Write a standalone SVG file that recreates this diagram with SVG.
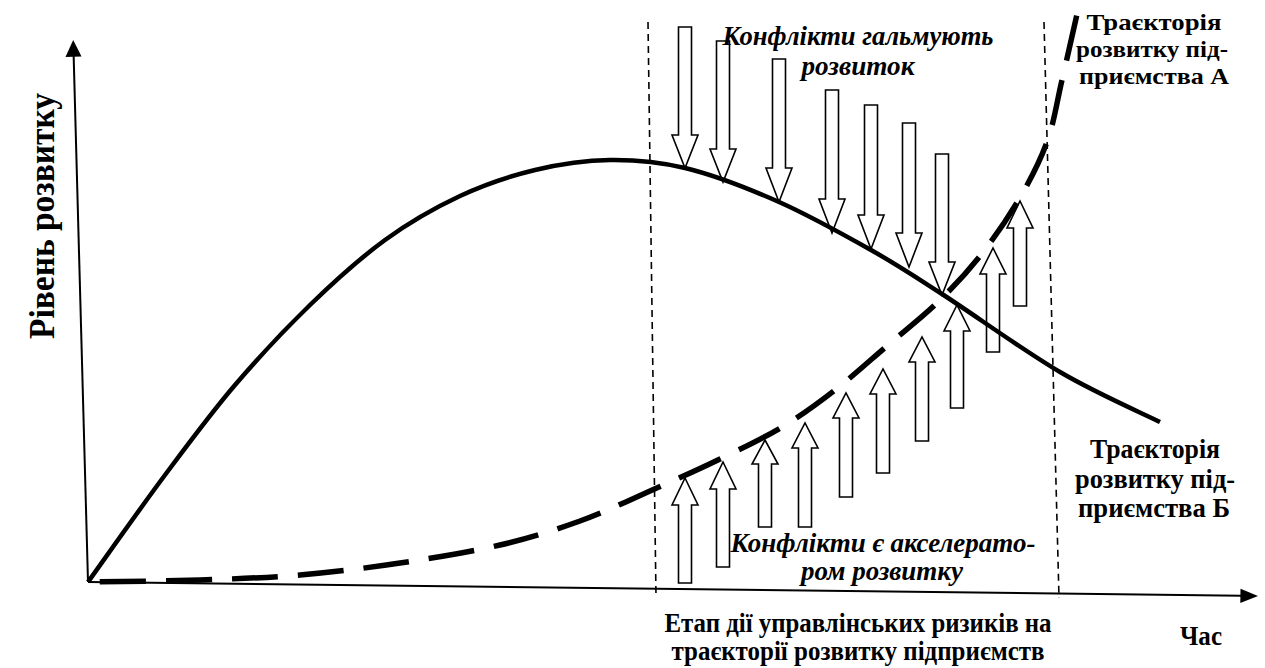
<svg xmlns="http://www.w3.org/2000/svg" width="1265" height="668" viewBox="0 0 1265 668">
<style>
.ax{stroke:#000;stroke-width:2;fill:none}
.vd{stroke:#000;stroke-width:1.6;stroke-dasharray:7 5;fill:none}
.solid{stroke:#000;stroke-width:4.5;fill:none}
.dash{stroke:#000;stroke-width:5.5;fill:none;stroke-dasharray:46 20;stroke-dashoffset:54}
.ar{fill:#fff;stroke:#000;stroke-width:1.6;stroke-linejoin:miter}
text{font-family:'Liberation Serif','DejaVu Serif','Times New Roman',serif;font-weight:bold;fill:#000}
.it{font-style:italic}
</style>
<rect width="1265" height="668" fill="#fff"/>
<g id="axes">
<line class="ax" x1="88" y1="582" x2="73.6" y2="54"/>
<polygon points="73.2,40 65.5,57 81.5,56.6" fill="#000"/>
<line class="ax" x1="88" y1="582" x2="1242" y2="595.8"/>
<polygon points="1258,596 1240.5,588.8 1240.3,603" fill="#000"/>
</g>
<g id="stage-bounds">
<line class="vd" x1="648" y1="22" x2="656" y2="596"/>
<line class="vd" x1="1044" y1="22" x2="1059" y2="598"/>
</g>
<g id="down-arrows">
<path class="ar" d="M678.5,27H691.5V135H698L685,168L672,135H678.5Z"/>
<path class="ar" d="M716.5,41H729.5V149H736L723,182L710,149H716.5Z"/>
<path class="ar" d="M772.5,59H785.5V168H792L779,202L766,168H772.5Z"/>
<path class="ar" d="M825.5,90H838.5V199H845L832,233L819,199H825.5Z"/>
<path class="ar" d="M864.5,105H877.5V215H884L871,249L858,215H864.5Z"/>
<path class="ar" d="M902.5,123H915.5V233H922L909,267L896,233H902.5Z"/>
<path class="ar" d="M935.5,154H948.5V262H955L942,295L929,262H935.5Z"/>
</g>
<g id="up-arrows">
<path class="ar" d="M678.5,583H691.5V505H698L685,478L672,505H678.5Z"/>
<path class="ar" d="M716.5,567H729.5V489H736L723,462L710,489H716.5Z"/>
<path class="ar" d="M758.5,527H771.5V464H778L765,440L752,464H758.5Z"/>
<path class="ar" d="M798.5,527H811.5V448H818L805,423L792,448H798.5Z"/>
<path class="ar" d="M839.5,497H852.5V418H859L846,393L833,418H839.5Z"/>
<path class="ar" d="M876.5,473H889.5V394H896L883,369L870,394H876.5Z"/>
<path class="ar" d="M915.5,441H928.5V362H935L922,337L909,362H915.5Z"/>
<path class="ar" d="M950.5,408H963.5V331H970L957,305L944,331H950.5Z"/>
<path class="ar" d="M986.5,352H999.5V274H1006L993,248L980,274H986.5Z"/>
<path class="ar" d="M1013.5,306H1026.5V228H1033L1020,201L1007,228H1013.5Z"/>
</g>
<g id="trajectory-B">
<path class="solid" d="M88,582C100.8,564.2 140.5,507.8 165,475C189.5,442.2 210.8,413.3 235,385C259.2,356.7 285,329.2 310,305C335,280.8 360,258.2 385,240C410,221.8 435,207.7 460,196C485,184.3 510,176 535,170C560,164 585,160.3 610,160C635,159.7 656.8,161.2 685,168C713.2,174.8 748,188.3 779,202C810,215.7 843.8,234.7 871,250C898.2,265.3 910.5,273.7 942,294C973.5,314.3 1023.7,350.7 1060,372C1096.3,393.3 1143.3,413.7 1160,422"/>
</g>
<g id="trajectory-A">
<path class="dash" d="M88,582C106.7,581.7 164.7,581.2 200,580C235.3,578.8 266.7,577.8 300,575C333.3,572.2 366.7,568 400,563C433.3,558 470,552 500,545C530,538 555,530 580,521C605,512 626.7,501.3 650,491C673.3,480.7 698,469.7 720,459C742,448.3 762.8,438.5 782,427C801.2,415.5 817.3,403.7 835,390C852.7,376.3 871,359.5 888,345C905,330.5 921.7,317.8 937,303C952.3,288.2 966.5,273 980,256C993.5,239 1006.8,220 1018,201C1029.2,182 1039.7,162.2 1047,142C1054.3,121.8 1056.8,102 1062,80C1067.2,58 1075.3,21.7 1078,10"/>
</g>
<g id="label-y">
<text font-size="35" text-anchor="middle" transform="translate(54,216) rotate(-90)" textLength="246" lengthAdjust="spacingAndGlyphs">Рівень розвитку</text>
</g>
<g id="label-brake">
<text class="it" font-size="27" x="858" y="45" text-anchor="middle" textLength="271" lengthAdjust="spacingAndGlyphs">Конфлікти гальмують</text>
<text class="it" font-size="27" x="858" y="75" text-anchor="middle" textLength="113" lengthAdjust="spacingAndGlyphs">розвиток</text>
</g>
<g id="label-accel">
<text class="it" font-size="27" x="883" y="552" text-anchor="middle" textLength="305" lengthAdjust="spacingAndGlyphs">Конфлікти є акселерато-</text>
<text class="it" font-size="27" x="882" y="580" text-anchor="middle" textLength="162" lengthAdjust="spacingAndGlyphs">ром розвитку</text>
</g>
<g id="label-A">
<text font-size="24" x="1154" y="30" text-anchor="middle" textLength="135" lengthAdjust="spacingAndGlyphs">Траєкторія</text>
<text font-size="24" x="1152" y="57" text-anchor="middle" textLength="152" lengthAdjust="spacingAndGlyphs">розвитку під-</text>
<text font-size="24" x="1154" y="84" text-anchor="middle" textLength="150" lengthAdjust="spacingAndGlyphs">приємства А</text>
</g>
<g id="label-B">
<text font-size="27" x="1155" y="458" text-anchor="middle" textLength="130" lengthAdjust="spacingAndGlyphs">Траєкторія</text>
<text font-size="27" x="1155" y="488" text-anchor="middle" textLength="160" lengthAdjust="spacingAndGlyphs">розвитку під-</text>
<text font-size="27" x="1154" y="517" text-anchor="middle" textLength="152" lengthAdjust="spacingAndGlyphs">приємства Б</text>
</g>
<g id="label-stage">
<text font-size="28" x="858" y="632" text-anchor="middle" textLength="387" lengthAdjust="spacingAndGlyphs">Етап дії управлінських ризиків на</text>
<text font-size="28" x="858" y="660" text-anchor="middle" textLength="373" lengthAdjust="spacingAndGlyphs">траєкторії розвитку підприємств</text>
</g>
<g id="label-x">
<text font-size="28" x="1201" y="645" text-anchor="middle" textLength="42" lengthAdjust="spacingAndGlyphs">Час</text>
</g>
</svg>
